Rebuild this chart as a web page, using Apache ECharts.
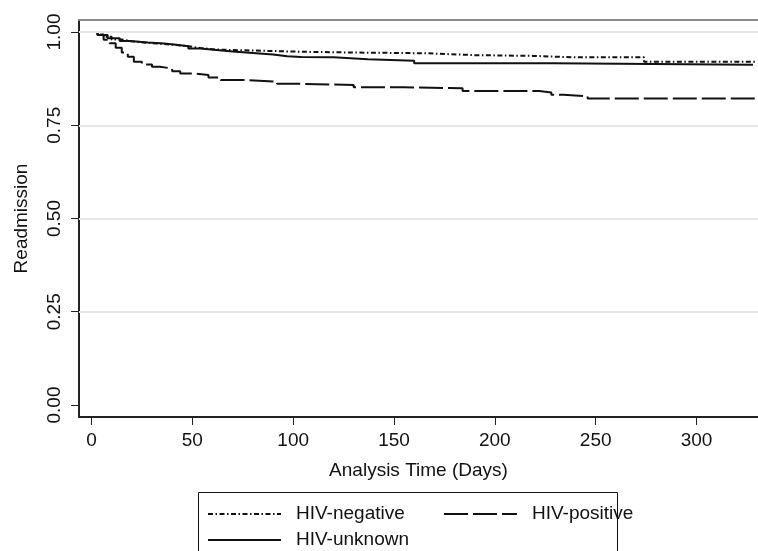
<!DOCTYPE html>
<html>
<head>
<meta charset="utf-8">
<script src="https://cdn.jsdelivr.net/npm/echarts@6/dist/echarts.min.js"></script>
<style>
html,body{margin:0;padding:0;background:#fff;}
#chart{width:758px;height:551px;}
</style>
</head>
<body>
<div id="chart"></div>
<script>
// ---- data ----
var seriesNames = ['HIV-negative', 'HIV-positive', 'HIV-unknown'];
var xTicks = [0, 50, 100, 150, 200, 250, 300];
var yTicks = [0, 0.25, 0.5, 0.75, 1];
var yTickLabels = ['0.00', '0.25', '0.50', '0.75', '1.00'];

var negDays = [0, 3, 6, 10, 15, 20, 28, 35, 42, 48, 54, 62, 75, 90, 104, 130, 166, 190, 219, 240, 274, 330];
var negVals = [1.0, 0.993, 0.987, 0.980, 0.975, 0.971, 0.968, 0.965, 0.962, 0.957, 0.953, 0.951, 0.949, 0.947, 0.945, 0.943, 0.938, 0.936, 0.932, 0.932, 0.920, 0.920];

var posDays = [0, 3, 6, 9, 12, 15, 18, 21, 25, 30, 34, 40, 44, 51, 58, 64, 77, 92, 104, 130, 155, 184, 222, 228, 234, 246, 330];
var posVals = [1.0, 0.992, 0.979, 0.970, 0.958, 0.945, 0.934, 0.920, 0.913, 0.907, 0.902, 0.895, 0.889, 0.885, 0.878, 0.871, 0.867, 0.861, 0.858, 0.852, 0.849, 0.842, 0.838, 0.832, 0.828, 0.822, 0.822];

var unkDays = [0, 3, 8, 14, 19, 28, 36, 42, 48, 54, 62, 70, 80, 90, 97, 104, 120, 137, 160, 229, 328];
var unkVals = [1.0, 0.992, 0.983, 0.976, 0.972, 0.969, 0.966, 0.962, 0.956, 0.952, 0.948, 0.944, 0.940, 0.935, 0.933, 0.932, 0.927, 0.923, 0.916, 0.912, 0.912];

function pairs(d, v) { return d.map(function (x, i) { return [x, v[i]]; }); }

var FONT = '"Liberation Sans", Arial, Helvetica, sans-serif';
var chart = echarts.init(document.getElementById('chart'), null, {renderer: 'canvas'});

function lineSeries(name, days, vals, dash) {
  return {
    name: name, type: 'line', step: 'end', symbol: 'none', z: 3,
    data: pairs(days, vals),
    lineStyle: {color: '#111', width: 2, type: dash},
    itemStyle: {color: '#111'},
    emphasis: {disabled: true}
  };
}

function legendAt(name, left, top) {
  return {
    data: [name], left: left, top: top, padding: 0, orient: 'horizontal',
    itemWidth: 73, itemHeight: 20, selectedMode: false,
    itemStyle: {opacity: 0, borderWidth: 0},
    textStyle: {fontFamily: FONT, fontSize: 19, color: '#111', padding: [0, 0, 0, 10], lineHeight: 20}
  };
}

var option = {
  backgroundColor: '#fff',
  animation: false,
  grid: {left: 79, top: 20, right: 0, bottom: 134, containLabel: false},
  legend: [
    legendAt('HIV-negative', 207, 504),
    legendAt('HIV-positive', 443, 504),
    legendAt('HIV-unknown', 207, 530)
  ],
  xAxis: [{
    type: 'value', min: -6.2, max: 330.5,
    name: 'Analysis Time (Days)', nameLocation: 'middle', nameGap: 44,
    nameTextStyle: {fontFamily: FONT, fontSize: 19, color: '#111'},
    axisLine: {show: true, onZero: false, lineStyle: {color: '#222', width: 2}},
    axisTick: {show: true, length: 8, customValues: xTicks, lineStyle: {color: '#222', width: 1}},
    axisLabel: {customValues: xTicks, fontFamily: FONT, fontSize: 19, color: '#111', margin: 14},
    splitLine: {show: false}
  }, {
    type: 'value', position: 'top', min: -6.2, max: 330.5,
    axisLine: {show: true, onZero: false, lineStyle: {color: '#8c8c8c', width: 2}},
    axisTick: {show: false}, axisLabel: {show: false}, splitLine: {show: false}
  }],
  yAxis: {
    type: 'value', min: -0.0322, max: 1.0322,
    name: 'Readmission', nameLocation: 'middle', nameGap: 48,
    nameTextStyle: {fontFamily: FONT, fontSize: 19, color: '#111'},
    axisLine: {show: true, onZero: false, lineStyle: {color: '#222', width: 2}},
    axisTick: {show: true, length: 8, customValues: yTicks, lineStyle: {color: '#222', width: 1}},
    axisLabel: {
      customValues: yTicks, rotate: 90, fontFamily: FONT, fontSize: 19, color: '#111', margin: 15,
      formatter: function (v) { var i = yTicks.indexOf(Math.round(v * 100) / 100); return i >= 0 ? yTickLabels[i] : ''; }
    },
    splitLine: {show: false}
  },
  series: [
    {
      name: '_grid', type: 'line', data: [], z: 1, silent: true,
      markLine: {
        silent: true, symbol: 'none', label: {show: false},
        lineStyle: {color: '#e6e6e6', width: 2, type: 'solid'},
        data: yTicks.filter(function (v) { return v > 0; }).map(function (v) { return {yAxis: v}; })
      }
    },
    lineSeries('HIV-negative', negDays, negVals, [5, 2.5, 1.5, 2.5]),
    lineSeries('HIV-positive', posDays, posVals, [24, 5]),
    lineSeries('HIV-unknown', unkDays, unkVals, 'solid')
  ],
  graphic: [{
    type: 'rect', silent: true, z: 10,
    shape: {x: 198.5, y: 492.5, width: 419, height: 80},
    style: {fill: 'none', stroke: '#111', lineWidth: 1}
  }]
};
chart.setOption(option);
</script>
</body>
</html>
